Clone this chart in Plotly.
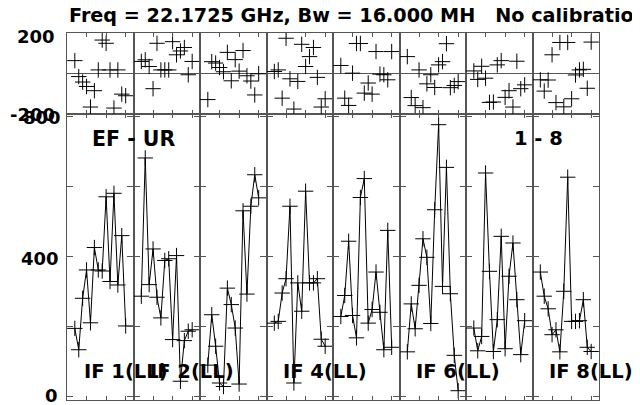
import plotly.graph_objects as go

# ---------------- data ----------------
CHANNELS = list(range(2, 16))
IF_NAMES = ["IF 1(LL)", "IF 2(LL)", "IF 3(LL)", "IF 4(LL)", "IF 5(LL)", "IF 6(LL)", "IF 7(LL)", "IF 8(LL)"]
IF_LABEL_SHOWN = [True, True, False, True, False, True, False, True]

AMP_IF1 = [196, 135, 282, 363, 212, 427, 363, 360, 572, 330, 582, 320, 461, 203]
AMP_IF2 = [288, 683, 321, 423, 285, 226, 390, 395, 164, 404, 45, 161, 188, 192]
AMP_IF3 = [91, 235, 145, 40, 30, 311, 264, 197, 37, 532, 294, 545, 635, 569]
AMP_IF4 = [211, 216, 297, 338, 545, 40, 326, 245, 588, 326, 326, 338, 165, 145]
AMP_IF5 = [230, 290, 445, 233, 169, 570, 624, 211, 250, 357, 242, 135, 476, 142]
AMP_IF6 = [129, 266, 195, 319, 452, 399, 210, 535, 778, 316, 656, 295, 119, 18]
AMP_IF7 = [197, 132, 173, 640, 359, 130, 221, 459, 138, 345, 440, 278, 121, 218]
AMP_IF8 = [357, 288, 252, 178, 192, 129, 302, 628, 216, 216, 218, 278, 142, 130]

PHASE_IF1 = [63, -16, -43, -65, -167, -86, 17, 165, 149, 17, -172, 17, -103, -111]
PHASE_IF2 = [59, 67, 34, -76, 149, 17, 17, 17, 157, 92, 111, 128, -7, 59]
PHASE_IF3 = [-130, 58, 51, 29, 8, 104, -37, 68, 11, 113, -12, -38, -107, -2]
PHASE_IF4 = [9, 17, -123, 174, -27, -177, -40, 144, 34, 83, 128, -20, -167, -126]
PHASE_IF5 = [39, -123, -159, 1, 148, 148, -98, -48, -103, 108, -4, -7, -32, 108]
PHASE_IF6 = [83, -120, -160, 17, -170, -52, -7, -70, 42, 58, 147, -71, -60, -41]
PHASE_IF7 = [12, -30, 35, -24, -144, -142, 42, 63, -119, -86, -167, 60, -76, -57]
PHASE_IF8 = [-32, -88, -33, 92, -145, 153, -166, 153, -126, -8, 17, 20, -74, 155]

AMPS = [AMP_IF1, AMP_IF2, AMP_IF3, AMP_IF4, AMP_IF5, AMP_IF6, AMP_IF7, AMP_IF8]
PHASES = [PHASE_IF1, PHASE_IF2, PHASE_IF3, PHASE_IF4, PHASE_IF5, PHASE_IF6, PHASE_IF7, PHASE_IF8]

TITLE = "Freq = 22.1725 GHz, Bw = 16.000 MH   No calibratio"
BASELINE = "EF - UR"
IF_RANGE = "1 - 8"
AMP_TICK_LABELS = [0, 400, 800]
PHASE_TICK_LABELS = [200, -200]

# ---------------- layout geometry ----------------
OFF = 8                      # page body margin of the browser
W, H = 640 - OFF, 405 - OFF
ML, MR, MT, MB = 59, 41, 25, 5
PW, PH = W - ML - MR, H - MT - MB
SPLIT = (400 - 113.7) / PH          # amplitude / phase boundary in paper units
NP = len(AMPS)

FRAME = "#555555"
FONT = "DejaVu Sans"

fig = go.Figure()

for p in range(NP):
    ia = 2 * p + 1
    ip = 2 * p + 2
    xa = "x" if ia == 1 else f"x{ia}"
    ya = "y" if ia == 1 else f"y{ia}"
    xp, yp = f"x{ip}", f"y{ip}"
    fig.add_trace(go.Scatter(
        x=CHANNELS, y=AMPS[p], xaxis=xa, yaxis=ya, mode="lines+markers",
        line=dict(color="black", width=1),
        marker=dict(symbol="cross-thin", size=11, line=dict(color="black", width=1)),
        showlegend=False, cliponaxis=True))
    fig.add_trace(go.Scatter(
        x=CHANNELS, y=PHASES[p], xaxis=xp, yaxis=yp, mode="markers",
        marker=dict(symbol="cross-thin", size=11, line=dict(color="black", width=1)),
        showlegend=False, cliponaxis=True))

    dom = [p / NP, (p + 1) / NP]
    common_x = dict(domain=dom, range=[0, 17], tickvals=[5, 10, 15], ticks="inside",
                    ticklen=4, tickwidth=1.2, tickcolor=FRAME, showline=True,
                    linecolor=FRAME, linewidth=1.3, mirror="ticks",
                    showticklabels=False, showgrid=False, zeroline=False)
    fig.layout[f"xaxis{ia}" if ia > 1 else "xaxis"] = dict(common_x, anchor=ya)
    fig.layout[f"xaxis{ip}"] = dict(common_x, anchor=yp)
    fig.layout[f"yaxis{ia}" if ia > 1 else "yaxis"] = dict(
        domain=[0, SPLIT], range=[-8.6, 809.4], tickvals=[0, 200, 400, 600, 800],
        ticks="inside", ticklen=6, tickwidth=1.2, tickcolor=FRAME, showline=True,
        linecolor=FRAME, linewidth=1.3, mirror="ticks", showticklabels=False,
        showgrid=False, zeroline=False, anchor=xa)
    fig.layout[f"yaxis{ip}"] = dict(
        domain=[SPLIT, 1], range=[-200, 200], tickvals=[-200, 200],
        ticks="inside", ticklen=6, tickwidth=1.2, tickcolor=FRAME, showline=True,
        linecolor=FRAME, linewidth=1.3, mirror="ticks", showticklabels=False,
        showgrid=False, zeroline=True, zerolinecolor=FRAME, zerolinewidth=1.3,
        anchor=xp)


def px_x(sx):
    """screen x (pixels) -> paper x"""
    return (sx - OFF - ML) / PW


def px_y(sy):
    """screen y (pixels) -> paper y"""
    return (H - MB - (sy - OFF)) / PH


ann = []
ann.append(dict(text=f"<b>{TITLE}</b>", xref="paper", yref="paper", x=px_x(67),
                y=px_y(15.3), xanchor="left", yanchor="middle", showarrow=False,
                font=dict(family=FONT, size=19.2, color="black")))
ann.append(dict(text=f"<b>{BASELINE}</b>", xref="paper", yref="paper", x=px_x(89.5),
                y=px_y(139), xanchor="left", yanchor="middle", showarrow=False,
                font=dict(family=FONT, size=20.5, color="black")))
ann.append(dict(text=f"<b>{IF_RANGE}</b>", xref="paper", yref="paper", x=px_x(512),
                y=px_y(138.5), xanchor="left", yanchor="middle", showarrow=False,
                font=dict(family=FONT, size=19.5, color="black")))
for p in range(NP):
    if IF_LABEL_SHOWN[p]:
        ann.append(dict(text=f"<b>{IF_NAMES[p]}</b>", xref="paper", yref="paper",
                        x=px_x(81.5 + 66.5 * p), y=px_y(371.5), xanchor="left",
                        yanchor="middle", showarrow=False,
                        font=dict(family=FONT, size=19.5, color="black")))
amp_right = {0: 59.5, 400: 60.5, 800: 62.5}
amp_shift = {0: 1, 400: -1.5, 800: -1}
for v in AMP_TICK_LABELS:
    ann.append(dict(text=f"<b>{v}</b>", xref="paper", yref="y", x=px_x(amp_right[v]),
                    y=v, yshift=amp_shift[v], xanchor="right", yanchor="middle",
                    showarrow=False, font=dict(family=FONT, size=18, color="black")))
ph_right = {200: 57, -200: 57}
ph_shift = {200: -3, -200: -1}
for v in PHASE_TICK_LABELS:
    ann.append(dict(text=f"<b>{v}</b>", xref="paper", yref="y2", x=px_x(ph_right[v]),
                    y=v, yshift=ph_shift[v], xanchor="right", yanchor="middle",
                    showarrow=False, font=dict(family=FONT, size=18, color="black")))

fig.update_layout(width=W, height=H, margin=dict(l=ML, r=MR, t=MT, b=MB),
                  paper_bgcolor="white", plot_bgcolor="white", annotations=ann,
                  showlegend=False)

fig.write_html("out.html")
